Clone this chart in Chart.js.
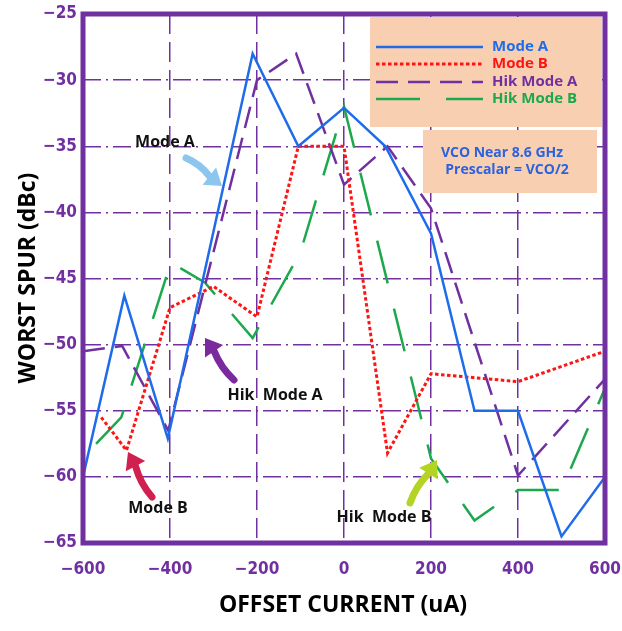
<!DOCTYPE html>
<html>
<head>
<meta charset="utf-8">
<script src="https://cdn.jsdelivr.net/npm/chart.js@4.4.0/dist/chart.umd.min.js"></script>
<style>
  html, body { margin: 0; padding: 0; background: #fff; }
</style>
</head>
<body>
<canvas id="graph" width="622" height="631"></canvas>
<script>
// values (x in uA, y in dBc)
var modeAX = [-600, -505, -405, -210, -105, 0, 95, 200, 300, 400, 500, 600];
var modeAY = [-60, -46.3, -57.1, -28, -35, -32.1, -35, -41.6, -55, -55, -64.5, -60];
var modeBX = [-558, -500, -400, -300, -200, -105, 0, 100, 200, 400, 600];
var modeBY = [-55.5, -58, -47.2, -45.6, -47.9, -35, -35, -58.2, -52.2, -52.8, -50.5];
var hikAX = [-600, -510, -404, -200, -110, 0, 100, 200, 400, 600];
var hikAY = [-50.5, -50.1, -56.5, -30, -28, -37.9, -35, -39.7, -59.9, -52.6];
var hikBX = [-570, -512, -398, -320, -210, -100, 0, 200, 300, 400, 500, 600];
var hikBY = [-57.5, -55.5, -43.8, -45.3, -49.5, -43, -32, -58.6, -63.3, -61, -61, -53.3];
var seriesNames = ['Mode A', 'Mode B', 'Hik Mode A', 'Hik Mode B'];
var xTicks = [-600, -400, -200, 0, 200, 400, 600];
var yTicks = [-25, -30, -35, -40, -45, -50, -55, -60, -65];

var purple = '#7030a0';
var font = "'Open Sans', 'DejaVu Sans', sans-serif";
var tickFont = "'DejaVu Sans Condensed', 'DejaVu Sans', sans-serif";

function pts(xs, ys) {
  return xs.map(function (x, i) { return { x: x, y: ys[i] }; });
}
function fmt(v) {
  return v < 0 ? '\u2212' + Math.abs(v) : String(v);
}

function fatArrow(ctx, x1, y1, x2, y2, color) {
  var ang = Math.atan2(y2 - y1, x2 - x1);
  var hl = 16, hw = 11;
  var bx = x2 - hl * Math.cos(ang), by = y2 - hl * Math.sin(ang);
  ctx.save();
  ctx.strokeStyle = color;
  ctx.fillStyle = color;
  ctx.lineWidth = 7;
  ctx.lineCap = 'round';
  ctx.beginPath();
  ctx.moveTo(x1, y1);
  ctx.quadraticCurveTo((x1 + bx) / 2 + 4 * Math.sin(ang), (y1 + by) / 2 - 4 * Math.cos(ang), bx, by);
  ctx.stroke();
  ctx.beginPath();
  ctx.moveTo(x2, y2);
  ctx.lineTo(bx + hw * Math.sin(ang), by - hw * Math.cos(ang));
  ctx.lineTo(bx - hw * Math.sin(ang), by + hw * Math.cos(ang));
  ctx.closePath();
  ctx.fill();
  ctx.restore();
}

var decorPlugin = {
  id: 'decor',
  beforeDatasetsDraw: function (chart) {
    var ctx = chart.ctx;
    ctx.save();
    ctx.fillStyle = '#f9cfb2';
    ctx.fillRect(370, 17, 232, 110);
    ctx.fillRect(423, 130, 174, 63);
    ctx.restore();
  },
  afterDatasetsDraw: function (chart) {
    var ctx = chart.ctx;
    var a = chart.chartArea;
    ctx.save();
    // legend
    var rows = [47, 64, 82, 99];
    chart.data.datasets.forEach(function (ds, i) {
      ctx.save();
      ctx.strokeStyle = ds.borderColor;
      ctx.lineWidth = ds.borderWidth;
      ctx.setLineDash(ds.borderDash || []);
      ctx.beginPath();
      ctx.moveTo(376, rows[i]);
      ctx.lineTo(483, rows[i]);
      ctx.stroke();
      ctx.restore();
      ctx.fillStyle = ds.borderColor;
      ctx.font = 'bold 15px ' + font;
      ctx.textAlign = 'left';
      ctx.textBaseline = 'middle';
      ctx.fillText(ds.label, 492, rows[i]);
    });
    ctx.fillStyle = '#2a62e0';
    ctx.font = 'bold 14px ' + font;
    ctx.textAlign = 'center';
    ctx.fillText('VCO Near 8.6 GHz', 502, 153);
    ctx.fillText('Prescalar = VCO/2', 507, 170);

    // annotations
    fatArrow(ctx, 186, 158, 222, 186, '#8cc6ef');
    fatArrow(ctx, 234, 380, 205, 338, '#7a2a9c');
    fatArrow(ctx, 152, 497, 128, 452, '#d02050');
    fatArrow(ctx, 410, 503, 437, 460, '#b4d424');
    ctx.fillStyle = '#111';
    ctx.font = 'bold 16px ' + font;
    ctx.textAlign = 'center';
    ctx.fillText('Mode A', 165, 142);
    ctx.fillText('Hik  Mode A', 275, 395);
    ctx.fillText('Mode B', 158, 508);
    ctx.fillText('Hik  Mode B', 384, 517);

    // frame
    ctx.strokeStyle = purple;
    ctx.lineWidth = 5;
    ctx.strokeRect(a.left, a.top, a.right - a.left, a.bottom - a.top);

    // axis titles
    ctx.fillStyle = '#000';
    ctx.font = 'bold 23px ' + font;
    ctx.textAlign = 'center';
    ctx.textBaseline = 'middle';
    ctx.fillText('OFFSET CURRENT (uA)', 343, 605);
    ctx.translate(28, 278);
    ctx.rotate(-Math.PI / 2);
    ctx.fillText('WORST SPUR (dBc)', 0, 0);
    ctx.restore();
  }
};

var chart = new Chart(document.getElementById('graph'), {
  type: 'scatter',
  data: {
    datasets: [
      { label: seriesNames[0], data: pts(modeAX, modeAY), borderColor: '#1f6ceb', borderWidth: 2.5, borderDash: [] },
      { label: seriesNames[1], data: pts(modeBX, modeBY), borderColor: '#ff1414', borderWidth: 3, borderDash: [3.5, 2.5] },
      { label: seriesNames[2], data: pts(hikAX, hikAY), borderColor: purple, borderWidth: 2.5, borderDash: [22, 10] },
      { label: seriesNames[3], data: pts(hikBX, hikBY), borderColor: '#1ca84c', borderWidth: 2.5, borderDash: [44, 26] }
    ]
  },
  options: {
    responsive: false,
    animation: false,
    devicePixelRatio: 1,
    showLine: true,
    elements: {
      point: { radius: 0, hoverRadius: 0 },
      line: { tension: 0, fill: false, borderCapStyle: 'butt' }
    },
    layout: { padding: { top: 14, right: 17, left: 0, bottom: 0 } },
    plugins: { legend: { display: false }, tooltip: { enabled: false } },
    scales: {
      x: {
        type: 'linear', min: -600, max: 600,
        afterBuildTicks: function (s) { s.ticks = xTicks.map(function (v) { return { value: v }; }); },
        afterFit: function (s) { s.height = 88; s.paddingLeft = 0; s.paddingRight = 0; },
        grid: { color: purple, lineWidth: 1.5, drawTicks: false },
        border: { display: false, dash: [20, 8] },
        ticks: { color: purple, padding: 16, font: { family: tickFont, size: 17, weight: 'bold' }, callback: fmt, maxRotation: 0 }
      },
      y: {
        type: 'linear', min: -65, max: -25,
        afterBuildTicks: function (s) { s.ticks = yTicks.map(function (v) { return { value: v }; }); },
        afterFit: function (s) { s.width = 83; s.paddingTop = 0; s.paddingBottom = 0; },
        grid: { color: purple, lineWidth: 1.5, drawTicks: false },
        border: { display: false, dash: [18, 5, 2, 5] },
        ticks: { color: purple, padding: 6, font: { family: tickFont, size: 17, weight: 'bold' }, callback: fmt }
      }
    }
  },
  plugins: [decorPlugin]
});
</script>
</body>
</html>
